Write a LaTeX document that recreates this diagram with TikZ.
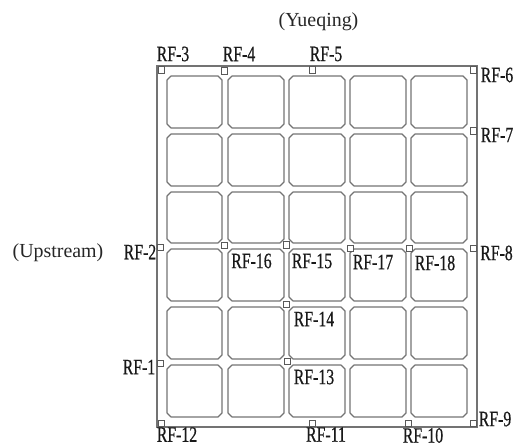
\documentclass[tikz,border=0pt]{standalone}
\usepackage{fontspec}
\setmainfont{Liberation Serif}
\newfontfamily\rffont[FakeStretch=0.72,FakeBold=0.6]{Liberation Serif}
\begin{document}
\begin{tikzpicture}[x=1bp,y=-1bp,
  frameline/.style={draw=black!55,line width=1.4bp},
  cellline/.style={draw=black!55,line width=1.2bp},
  gauge/.style={draw=black!65,fill=white,line width=0.8bp,minimum size=6.2bp,inner sep=0pt,outer sep=0pt},
  rflabel/.style={font=\rffont\fontsize{22}{22}\selectfont,text=black!90,inner sep=0pt},
  place/.style={font=\fontsize{20}{20}\selectfont,text=black!85,inner sep=0pt}]
\useasboundingbox (0,0) rectangle (514,446);
\draw[frameline] (157,66) rectangle (477,427);
\foreach \xa/\xb in {167/222,228/284,289/345,350/406,411/467}{
  \foreach \ya/\yb in {76/128,134/186,192/243,249/301,307/359,365/417}{
    \draw[cellline,line join=round]
      (\xa+4,\ya) -- (\xb-4,\ya) -- (\xb,\ya+4) -- (\xb,\yb-4) -- (\xb-4,\yb)
      -- (\xa+4,\yb) -- (\xa,\yb-4) -- (\xa,\ya+4) -- cycle;
  }
}
\foreach \n/\x/\y in {g3/161/70,g4/224/71,g5/312/70,g6/473/70,g7/473/131,g8/473/248,
  g9/473/423,g10/408/423,g11/312/423,g12/161/423,g1/160/363,g2/160/247,
  g16/224/245.5,g15/286/245,g17/350/248,g18/409/248,g14/286/304,g13/287/361}{
  \node[gauge] (\n) at (\x,\y) {};
}
\node[place] (yq) at (318.5,22) {(Yueqing)};
\node[place] (up) at (58,253) {(Upstream)};
\foreach \n/\t/\x/\y in {l3/RF-3/173/54,l4/RF-4/239/54,l5/RF-5/326/54,
  l6/RF-6/497/75,l7/RF-7/497/135,l8/RF-8/496.5/253,l9/RF-9/495/419,
  l10/RF-10/423/435.5,l11/RF-11/326/434.5,l12/RF-12/177/434.5,
  l1/RF-1/139/367,l2/RF-2/140/252,
  l16/RF-16/251.5/261,l15/RF-15/312/261,l17/RF-17/373/262,l18/RF-18/435/263,
  l14/RF-14/314/319,l13/RF-13/314/377}{
  \node[rflabel] (\n) at (\x,\y) {\t};
}
\end{tikzpicture}
\end{document}
